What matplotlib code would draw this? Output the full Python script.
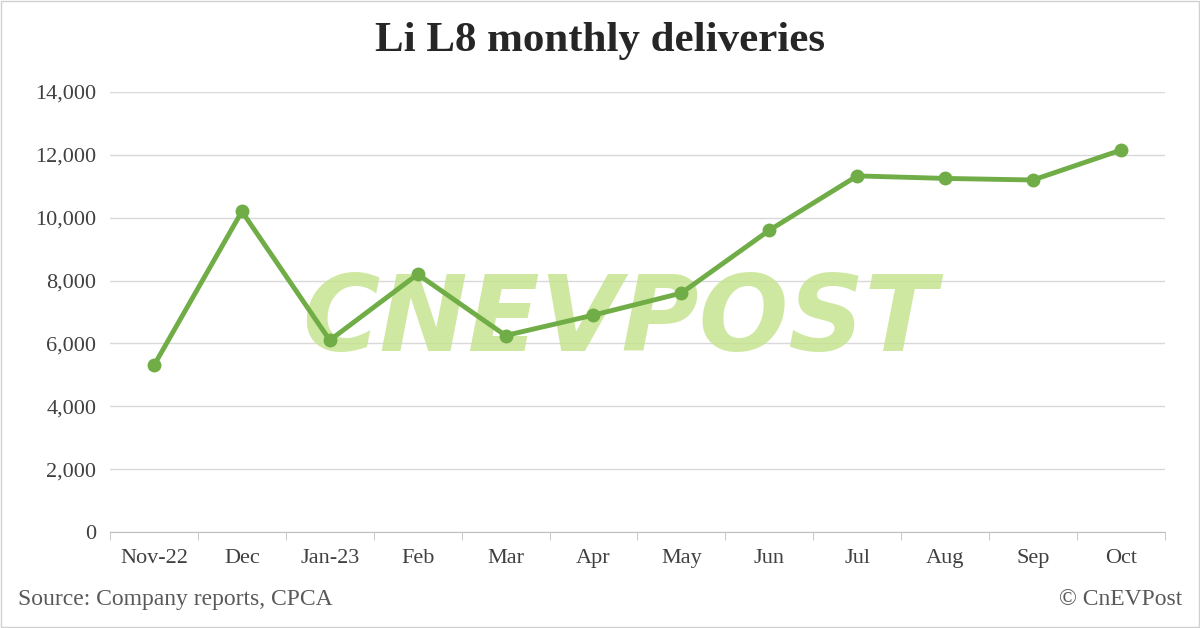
import matplotlib
matplotlib.use("Agg")
import matplotlib.pyplot as plt

# data
months = ["Nov-22", "Dec", "Jan-23", "Feb", "Mar", "Apr", "May", "Jun",
          "Jul", "Aug", "Sep", "Oct"]
deliveries = [5300, 10200, 6100, 8200, 6250, 6900, 7600, 9600,
              11330, 11250, 11200, 12150]
yticks = list(range(0, 14001, 2000))

plt.rcParams['font.family'] = ['Liberation Serif', 'DejaVu Serif']
green = "#70AD47"

fig = plt.figure(figsize=(12, 6.28), dpi=100)
ax = fig.add_axes([0.0917, 0.153, 0.879, 0.7005])

x = list(range(len(months)))
ax.plot(x, deliveries, color=green, lw=3.5, marker="o", ms=9, zorder=3)

ax.set_xlim(-0.5, len(months) - 0.5)
ax.set_ylim(0, 14000)
ax.set_yticks(yticks)
ax.set_yticklabels([f"{v:,}" for v in yticks])
ax.set_xticks(x)
ax.set_xticklabels(months)
ax.set_xticks([i - 0.5 for i in range(len(months) + 1)], minor=True)
ax.tick_params(axis="x", which="major", length=0, pad=12)
ax.tick_params(axis="x", which="minor", length=6, color="#BFBFBF")
ax.tick_params(axis="y", length=0, pad=10)
ax.tick_params(labelsize=16, labelcolor="#404040")
ax.grid(axis="y", color="#D9D9D9", lw=1)
ax.set_axisbelow(True)
for s in ["top", "right", "left"]:
    ax.spines[s].set_visible(False)
ax.spines["bottom"].set_color("#BFBFBF")

# watermark, under the line
ax.text(0.483, 0.477, "CNEVPOST", fontsize=76, fontweight="heavy", style="oblique",
        family="DejaVu Sans", color="#C4E38A", alpha=0.8, ha="center", va="center",
        transform=ax.transAxes, zorder=1)

fig.text(0.5, 0.935, "Li L8 monthly deliveries", fontsize=31, fontweight="bold",
         color="#262626", ha="center", va="center")
fig.text(0.015, 0.045, "Source: Company reports, CPCA", fontsize=17, color="#595959",
         va="center")
fig.text(0.985, 0.045, "© CnEVPost", fontsize=17, color="#595959", ha="right",
         va="center")

fig.patches.append(plt.Rectangle((0.001, 0.001), 0.998, 0.998, transform=fig.transFigure,
                                 fill=False, edgecolor="#D0D0D0", lw=1))

fig.savefig("out.png", dpi=100)
